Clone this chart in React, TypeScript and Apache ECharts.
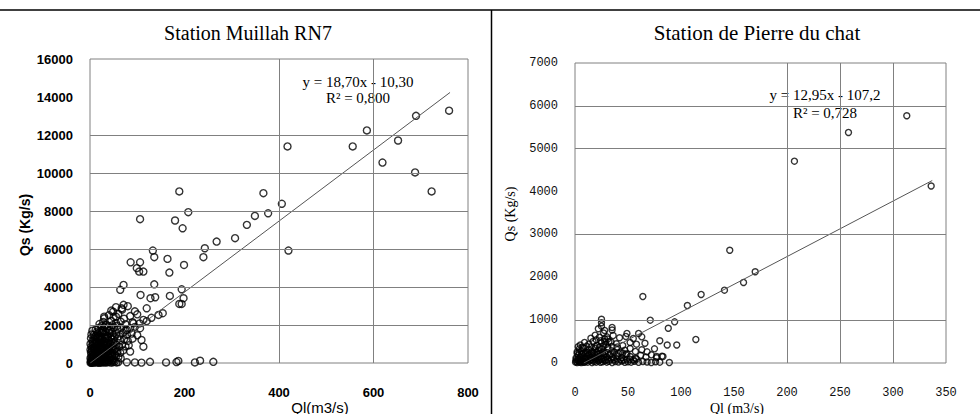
import React, { useEffect, useRef } from "react";
import * as echarts from "echarts";

// ---------- texts ----------
const leftTitle = "Station Muillah RN7";
const rightTitle = "Station de Pierre du chat";
const leftXName = "Ql(m3/s)";
const rightXName = "Ql (m3/s)";
const yName = "Qs (Kg/s)";
const leftEq = ["y = 18,70x - 10,30", "R² = 0,800"];
const rightEq = ["y = 12,95x - 107,2", "R² = 0,728"];

// ---------- axes ----------
const leftX = { min: 0, max: 800, interval: 200 };
const leftY = { min: 0, max: 16000, interval: 2000 };
const rightX = { min: 0, max: 350, interval: 50 };
const rightY = { min: 0, max: 7000, interval: 1000 };

// grid lines visible in the scan
const leftHGrid = [2000, 4000, 6000, 8000, 10000, 12000];
const leftVGrid = [400, 600];
const rightHGrid = [1000, 3000, 5000, 6000];
const rightVGrid = [200, 250, 300];

// ---------- regressions ----------
const leftSlope = 18.7;
const leftIntercept = -10.3;
const leftTrendX = [0.6, 762];
const rightSlope = 12.95;
const rightIntercept = -107.2;
const rightTrendX = [8.3, 337];

// ---------- data: Station Muillah RN7 (Ql, Qs) ----------
const leftOutliers = [
  [760, 13280], [690, 13010], [586, 12240], [652, 11710], [556, 11400], [418, 11400],
  [619, 10550], [688, 10030], [723, 9030], [189, 9030], [367, 8940], [406, 8380],
  [377, 7880], [208, 7940], [349, 7740], [332, 7270], [106, 7570], [180, 7500],
  [196, 7090], [268, 6390], [307, 6570], [243, 6040], [240, 5570], [420, 5920],
  [133, 5920], [136, 5570], [164, 5480], [86, 5300], [106, 5300], [99, 4990],
  [104, 4810], [113, 4810], [199, 5160], [168, 4760], [136, 4140], [71, 4110],
  [64, 3850], [194, 3880], [107, 3580], [128, 3410], [138, 3460], [169, 3530],
  [198, 3410], [189, 3110], [194, 3110], [120, 2880], [154, 2620], [145, 2530],
  [71, 3060], [67, 2880], [49, 2700], [30, 2440], [55, 2440], [92, 2090],
  [113, 2270], [106, 1830], [78, 1740], [109, 1210], [113, 860], [85, 600],
  [78, 40], [95, 30], [109, 20], [127, 60], [161, 30], [183, 50], [187, 110],
  [222, 30], [233, 120], [261, 60],
];
const leftCluster = [
  [1, 20], [2, 60], [3, 10], [4, 40], [5, 80], [6, 20], [8, 50], [10, 30], [12, 70],
  [14, 20], [16, 60], [18, 40], [20, 10], [22, 50], [25, 30], [28, 70], [30, 20],
  [33, 50], [36, 30], [40, 60], [44, 20], [48, 40], [52, 70], [56, 30], [60, 50],
  [2, 150], [6, 130], [10, 170], [14, 120], [18, 160], [22, 140], [26, 180], [30, 110],
  [34, 150], [38, 130], [42, 170], [46, 120], [50, 160],
  [1, 250], [3, 320], [5, 210], [7, 380], [9, 290], [12, 240], [15, 350], [18, 300],
  [21, 220], [24, 370], [27, 260], [30, 330], [34, 230], [38, 390], [42, 280],
  [46, 340], [50, 240], [55, 360], [60, 300], [65, 250],
  [3, 450], [7, 420], [11, 470], [15, 430], [19, 460], [23, 410], [27, 480], [31, 440],
  [35, 460], [39, 420], [43, 470], [47, 430], [53, 460],
  [2, 560], [4, 640], [7, 520], [10, 690], [13, 580], [16, 650], [19, 540], [22, 700],
  [26, 600], [30, 520], [34, 670], [38, 580], [42, 640], [47, 560], [52, 690],
  [58, 610], [64, 540], [70, 660],
  [1, 700], [4, 760], [8, 730], [12, 780], [16, 740], [20, 770], [24, 720], [28, 790],
  [32, 750], [36, 770], [40, 730], [44, 780], [48, 740], [54, 760],
  [3, 880], [6, 950], [9, 820], [12, 990], [15, 900], [18, 840], [22, 960], [26, 870],
  [30, 1000], [35, 910], [40, 830], [45, 980], [50, 890], [56, 940], [62, 850],
  [68, 970], [75, 880], [82, 930],
  [1, 1000], [6, 1060], [10, 1030], [14, 1080], [18, 1040], [22, 1070], [26, 1020],
  [30, 1090], [34, 1050], [38, 1070], [42, 1030], [50, 1060],
  [5, 1150], [9, 1260], [13, 1120], [17, 1300], [21, 1190], [25, 1240], [30, 1140],
  [35, 1280], [40, 1170], [46, 1230], [52, 1110], [58, 1290], [64, 1200], [72, 1250],
  [80, 1160], [90, 1280],
  [2, 1300], [10, 1360], [14, 1330], [18, 1380], [22, 1340], [26, 1370], [32, 1320],
  [38, 1390], [44, 1350], [52, 1370],
  [3, 1500], [8, 1480], [12, 1420], [16, 1560], [20, 1450], [25, 1590], [30, 1500],
  [36, 1430], [42, 1570], [48, 1470], [55, 1530], [62, 1410], [70, 1580], [78, 1490],
  [88, 1550], [100, 1460],
  [5, 1700], [15, 1650], [21, 1620], [27, 1680], [33, 1640], [40, 1670], [47, 1630],
  [12, 1760], [18, 1840], [24, 1720], [30, 1890], [36, 1800], [42, 1740], [50, 1870],
  [58, 1780], [66, 1850], [75, 1710], [85, 1820], [95, 1900],
  [25, 1950], [32, 1980], [40, 1940], [48, 1990], [58, 1960],
  [20, 2050], [28, 2160], [35, 2020], [45, 2210], [55, 2100], [65, 2180], [75, 2040],
  [90, 2150], [105, 2080], [120, 2200],
  [30, 2350], [40, 2520], [50, 2410], [60, 2580], [72, 2330], [85, 2470], [100, 2560],
  [130, 2380],
  [45, 2760], [55, 2940], [68, 2810], [80, 2990], [95, 2720],
];

// ---------- data: Station de Pierre du chat (Ql, Qs) ----------
const rightOutliers = [
  [313, 5770], [258, 5380], [207, 4710], [336, 4130], [146, 2630], [170, 2130],
  [159, 1880], [141, 1700], [119, 1600], [64, 1550], [106, 1340], [94, 960],
  [88, 810], [71, 1000], [114, 550], [96, 420], [87, 420], [80, 520], [25, 1020],
  [25, 860], [35, 770], [49, 690], [60, 690], [63, 610], [30, 610], [28, 500],
  [89, 10], [77, 150], [83, 150],
];
const rightCluster = [
  [0.5, 20], [1, 40], [2, 10], [3, 50], [4, 20], [5, 30], [6, 10], [7, 45], [8, 25],
  [9, 15], [10, 40], [12, 20], [14, 50], [16, 10], [18, 35], [20, 20], [22, 45],
  [24, 15], [26, 30], [28, 50], [30, 20], [32, 40], [35, 10], [38, 35], [41, 25],
  [44, 45], [47, 15], [50, 30], [53, 20], [56, 40], [60, 15], [64, 35], [68, 25],
  [72, 10], [76, 30], [80, 20],
  [1, 80], [3, 90], [5, 70], [7, 100], [9, 85], [11, 75], [13, 95], [15, 80], [17, 70],
  [19, 90], [21, 100], [23, 75], [25, 85], [27, 95], [29, 70], [31, 80], [34, 90],
  [37, 75], [40, 95], [43, 80], [46, 70], [49, 90], [52, 85], [55, 75], [58, 95],
  [1, 120], [3, 180], [5, 140], [7, 200], [9, 110], [11, 160], [13, 190], [15, 130],
  [17, 170], [19, 120], [21, 200], [23, 150], [25, 110], [27, 180], [30, 140],
  [33, 190], [36, 120], [40, 170], [44, 130], [48, 200], [52, 150], [57, 110],
  [62, 180], [67, 140], [72, 190], [77, 120], [82, 160],
  [2, 220], [4, 240], [6, 210], [8, 230], [10, 220], [12, 240], [14, 215], [16, 235],
  [18, 225], [20, 245], [22, 210], [24, 230], [26, 240], [28, 220], [31, 235],
  [34, 215], [37, 245], [41, 225], [45, 235], [49, 215],
  [2, 260], [4, 330], [6, 280], [8, 350], [10, 250], [13, 310], [16, 270], [19, 340],
  [22, 290], [25, 320], [28, 260], [31, 350], [35, 280], [39, 330], [43, 250],
  [47, 300], [52, 340], [57, 270], [63, 310], [68, 260], [75, 330],
  [3, 380], [7, 370], [11, 390], [15, 375], [19, 385], [23, 365], [27, 395], [31, 370],
  [35, 385], [40, 375],
  [5, 420], [9, 480], [13, 440], [17, 500], [21, 410], [25, 470], [29, 430],
  [34, 490], [39, 450], [45, 410], [52, 480], [58, 440], [66, 460],
  [20, 540], [24, 520], [28, 560], [32, 500],
  [15, 580], [19, 650], [23, 600], [27, 700], [31, 560], [36, 640], [42, 590],
  [48, 620], [55, 570],
  [22, 800], [25, 940], [28, 760], [35, 830],
];

const leftData = [...leftOutliers, ...leftCluster];
const rightData = [...rightOutliers, ...rightCluster];

const gridLineStyle = { color: "#808080", width: 1, type: "solid" as const };

function gridMarks(h: number[], v: number[]) {
  return {
    silent: true,
    symbol: ["none", "none"],
    label: { show: false },
    lineStyle: gridLineStyle,
    emphasis: { disabled: true },
    data: [...h.map((y) => ({ yAxis: y })), ...v.map((x) => ({ xAxis: x }))],
  };
}

const plain = (v: number) => String(v);

export default function App() {
  const ref = useRef<HTMLDivElement>(null);

  useEffect(() => {
    if (!ref.current) return;
    const chart = echarts.init(ref.current, undefined, { renderer: "svg" });

    const leftLabel = {
      fontFamily: "Liberation Sans",
      fontWeight: "bold" as const,
      fontSize: 13,
      color: "#000",
      formatter: plain,
    };
    const rightLabel = {
      fontFamily: "Liberation Mono",
      fontSize: 12,
      color: "#111",
      formatter: plain,
    };
    const commonAxis = {
      axisLine: { show: false },
      axisTick: { show: false },
      splitLine: { show: false },
    };

    const option: echarts.EChartsOption = {
      animation: false,
      backgroundColor: "#fff",
      grid: [
        { left: 90, top: 59, width: 378, height: 304, show: true, borderColor: "#808080", borderWidth: 1, backgroundColor: "transparent" },
        { left: 575, top: 63, width: 371, height: 300, show: true, borderColor: "#808080", borderWidth: 1, backgroundColor: "transparent" },
      ],
      xAxis: [
        { type: "value", gridIndex: 0, ...leftX, ...commonAxis, axisLabel: { ...leftLabel, margin: 23 } },
        { type: "value", gridIndex: 1, ...rightX, ...commonAxis, axisLabel: { ...rightLabel, margin: 24 } },
      ],
      yAxis: [
        { type: "value", gridIndex: 0, ...leftY, ...commonAxis, axisLabel: { ...leftLabel, margin: 17 } },
        { type: "value", gridIndex: 1, ...rightY, ...commonAxis, axisLabel: { ...rightLabel, margin: 17 } },
      ],
      series: [
        {
          type: "line",
          xAxisIndex: 0,
          yAxisIndex: 0,
          data: leftTrendX.map((x) => [x, leftSlope * x + leftIntercept]),
          showSymbol: false,
          lineStyle: { color: "#555", width: 1 },
          markLine: gridMarks(leftHGrid, leftVGrid),
          silent: true,
        },
        {
          type: "scatter",
          xAxisIndex: 0,
          yAxisIndex: 0,
          data: leftData,
          symbol: "circle",
          symbolSize: 7,
          itemStyle: { color: "transparent", borderColor: "#000", borderWidth: 1.4 },
          silent: true,
        },
        {
          type: "line",
          xAxisIndex: 1,
          yAxisIndex: 1,
          data: rightTrendX.map((x) => [x, rightSlope * x + rightIntercept]),
          showSymbol: false,
          lineStyle: { color: "#555", width: 1 },
          markLine: gridMarks(rightHGrid, rightVGrid),
          silent: true,
        },
        {
          type: "scatter",
          xAxisIndex: 1,
          yAxisIndex: 1,
          data: rightData,
          symbol: "circle",
          symbolSize: 6,
          itemStyle: { color: "transparent", borderColor: "#000", borderWidth: 1.4 },
          silent: true,
        },
      ],
      graphic: [
        { type: "line", shape: { x1: 0, y1: 10, x2: 980, y2: 10 }, style: { stroke: "#000", lineWidth: 1.5 } },
        { type: "line", shape: { x1: 491.5, y1: 10, x2: 491.5, y2: 414 }, style: { stroke: "#000", lineWidth: 1.5 } },
        {
          type: "text", x: 248, y: 33,
          style: { text: leftTitle, font: "20px 'Liberation Serif'", fill: "#000", textAlign: "center", textVerticalAlign: "middle" },
        },
        {
          type: "text", x: 757, y: 33,
          style: { text: rightTitle, font: "21px 'Liberation Serif'", fill: "#000", textAlign: "center", textVerticalAlign: "middle" },
        },
        {
          type: "text", x: 358, y: 82,
          style: { text: leftEq[0], font: "15px 'Liberation Serif'", fill: "#000", textAlign: "center", textVerticalAlign: "middle" },
        },
        {
          type: "text", x: 358, y: 98,
          style: { text: leftEq[1], font: "15px 'Liberation Serif'", fill: "#000", textAlign: "center", textVerticalAlign: "middle" },
        },
        {
          type: "text", x: 825, y: 95,
          style: { text: rightEq[0], font: "15px 'Liberation Serif'", fill: "#000", textAlign: "center", textVerticalAlign: "middle" },
        },
        {
          type: "text", x: 825, y: 113,
          style: { text: rightEq[1], font: "15px 'Liberation Serif'", fill: "#000", textAlign: "center", textVerticalAlign: "middle" },
        },
        {
          type: "text", x: 320, y: 407,
          style: { text: leftXName, font: "15px 'Liberation Sans'", fill: "#000", textAlign: "center", textVerticalAlign: "middle" },
        },
        {
          type: "text", x: 737, y: 408,
          style: { text: rightXName, font: "14px 'Liberation Serif'", fill: "#000", textAlign: "center", textVerticalAlign: "middle" },
        },
        {
          type: "text", x: 25, y: 225, rotation: Math.PI / 2,
          style: { text: yName, font: "bold 14px 'Liberation Sans'", fill: "#000", textAlign: "center", textVerticalAlign: "middle" },
        },
        {
          type: "text", x: 510, y: 214, rotation: Math.PI / 2,
          style: { text: yName, font: "14px 'Liberation Serif'", fill: "#000", textAlign: "center", textVerticalAlign: "middle" },
        },
      ],
    };

    chart.setOption(option);
    return () => chart.dispose();
  }, []);

  return (
    <div
      ref={ref}
      style={{ position: "absolute", left: 0, top: 0, width: 980, height: 414, background: "#fff" }}
    />
  );
}
